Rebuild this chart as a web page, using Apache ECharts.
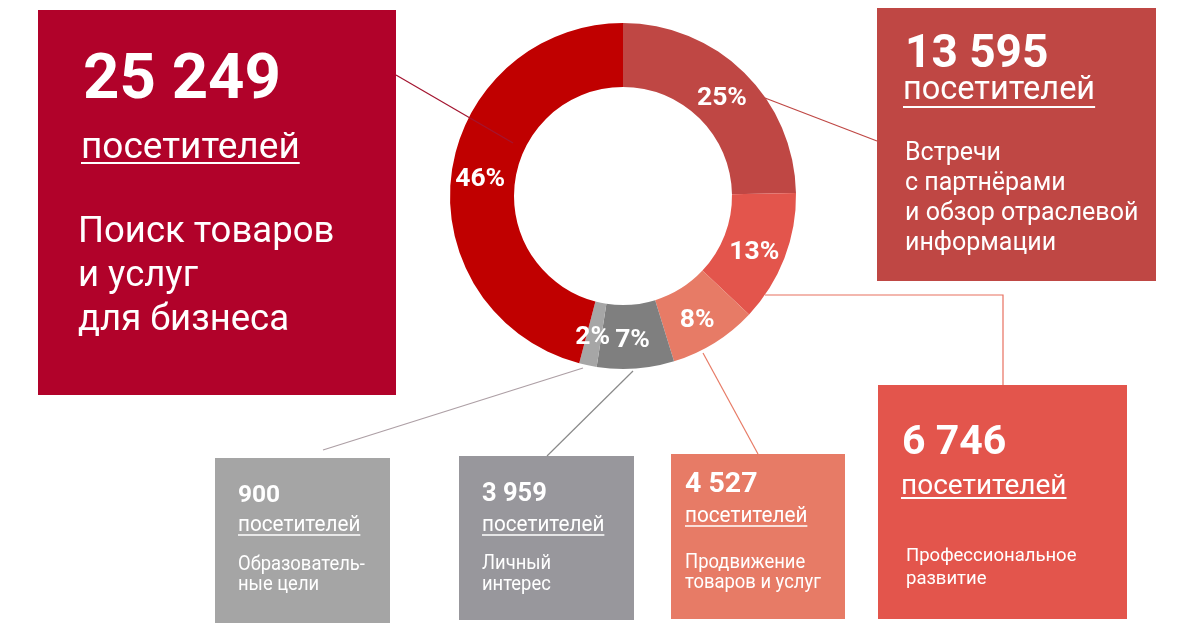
<!DOCTYPE html>
<html>
<head>
<meta charset="utf-8">
<script src="https://cdn.jsdelivr.net/npm/echarts@6/dist/echarts.min.js"></script>
<style>
html,body{margin:0;padding:0;background:#fff;}
#chart{width:1200px;height:633px;}
</style>
</head>
<body>
<div id="chart"></div>
<script>
// ---- data (clockwise from 12 o'clock) ----
const segments = [
  'Встречи с партнёрами и обзор отраслевой информации',
  'Профессиональное развитие',
  'Продвижение товаров и услуг',
  'Личный интерес',
  'Образовательные цели',
  'Поиск товаров и услуг для бизнеса'
];
const visitors = [13595, 6746, 4527, 3959, 900, 25249];
const percentLabels = ['25%', '13%', '8%', '7%', '2%', '46%'];
const unitLabel = 'посетителей';
const descLines = [
  ['Встречи', 'с партнёрами', 'и обзор отраслевой', 'информации'],
  ['Профессиональное', 'развитие'],
  ['Продвижение', 'товаров и услуг'],
  ['Личный', 'интерес'],
  ['Образователь-', 'ные цели'],
  ['Поиск товаров', 'и услуг', 'для бизнеса']
];

// ---- styles / layout ----
const sliceColors = ['#bf4744', '#e3554c', '#e77b66', '#7f7f7f', '#a6a6a6', '#c00000'];
const boxColors   = ['#bf4744', '#e3554c', '#e77b66', '#98979c', '#a5a5a5', '#b1022a'];
const lineColors  = ['#bf4744', '#e8705f', '#e77b66', '#8a8a8a', '#ad9fa5', '#a3142f'];
const labelNudge  = [[-2,5], [-3,5], [-2,2], [-1,1], [-1,0], [0,2]];
const FONT = 'Roboto, "Noto Sans", sans-serif';

// box layout: rect; number [x, baseline, size]; unit [x, baseline, size, underlineY, lineW]; desc [x, firstBaseline, step, size]; sx = horizontal squeeze of small text
const layout = [
  {r:[877,8,279,273],  n:[905,68,46],   u:[903,100,32.5,107,2], d:[905,160,30,25], sx:1},
  {r:[878,385,249,234],n:[902,455,41],   u:[901,495,28,498,2],   d:[906,562,23,18.5], sx:1},
  {r:[671,454,174,165],n:[685,493,28.5], u:[685,523,22.5,526,1.5], d:[685,568,20,20], sx:0.92},
  {r:[459,456,175,164],n:[482,502,25.5], u:[482,532,22.5,535,1.5], d:[482,569,21,20], sx:0.92},
  {r:[215,458,175,165],n:[238,503,24.5], u:[238,532,22.5,535,1.5], d:[238,570,20,20], sx:0.92},
  {r:[38,10,358,385],  n:[83,100,63.5], u:[81,159,37,163,2],    d:[78,243,44,36.5], sx:1}
];
const connectors = [
  [[765,98],[877,141]],
  [[765,295],[1003,295],[1003,385]],
  [[703,353],[758,454]],
  [[633,371],[547,456]],
  [[583,368],[323,450]],
  [[396,75],[513,143]]
];

function fmt(v){ return String(v).replace(/\B(?=(\d{3})+(?!\d))/g, ' '); }
const mctx = document.createElement('canvas').getContext('2d');
function textW(str, font){ mctx.font = font; return mctx.measureText(str).width; }
// zrender 'bottom' alignment -> place alphabetic baseline at B
function yFor(B, size){ return B + 0.23 * size; }

const graphics = [];
layout.forEach((L, i) => {
  graphics.push({type:'rect', z:50, shape:{x:L.r[0], y:L.r[1], width:L.r[2], height:L.r[3]}, style:{fill:boxColors[i]}, silent:true});
  const nFont = 'bold ' + L.n[2] + 'px ' + FONT;
  graphics.push({type:'text', z:60, x:L.n[0], y:yFor(L.n[1], L.n[2]), style:{text:fmt(visitors[i]), font:nFont, fill:'#fff', textAlign:'left', textVerticalAlign:'bottom'}, silent:true});
  const uFont = L.u[2] + 'px ' + FONT;
  graphics.push({type:'text', z:60, x:L.u[0], y:yFor(L.u[1], L.u[2]), scaleX:L.sx, style:{text:unitLabel, font:uFont, fill:'#fff', textAlign:'left', textVerticalAlign:'bottom'}, silent:true});
  const uw = textW(unitLabel, uFont) * L.sx;
  graphics.push({type:'line', z:60, shape:{x1:L.u[0], y1:L.u[3], x2:L.u[0]+uw, y2:L.u[3]}, style:{stroke:'#fff', lineWidth:L.u[4]}, silent:true});
  const dFont = L.d[3] + 'px ' + FONT;
  descLines[i].forEach((t, k) => {
    graphics.push({type:'text', z:60, x:L.d[0], y:yFor(L.d[1] + k*L.d[2], L.d[3]), scaleX:L.sx, style:{text:t, font:dFont, fill:'#fff', textAlign:'left', textVerticalAlign:'bottom'}, silent:true});
  });
});
connectors.forEach((pts, i) => {
  graphics.push({type:'polyline', z:70, shape:{points:pts}, style:{stroke:lineColors[i], lineWidth:1.2, fill:null}, silent:true});
});

const chart = echarts.init(document.getElementById('chart'), null, {renderer:'canvas'});
chart.setOption({
  animation:false,
  backgroundColor:'#fff',
  graphic: graphics,
  series:[{
    type:'pie',
    center:[623,196],
    radius:[109,173],
    startAngle:90,
    clockwise:true,
    avoidLabelOverlap:false,
    silent:true,
    itemStyle:{borderWidth:0},
    label:{
      show:true, position:'inside', color:'#fff',
      fontFamily:FONT, fontWeight:'bold', fontSize:26.5,
      formatter: p => percentLabels[p.dataIndex]
    },
    labelLine:{show:false},
    emphasis:{disabled:true},
    data: segments.map((name, i) => ({
      name, value:visitors[i],
      itemStyle:{color:sliceColors[i]},
      label:{offset:labelNudge[i]}
    }))
  }]
});
</script>
</body>
</html>
